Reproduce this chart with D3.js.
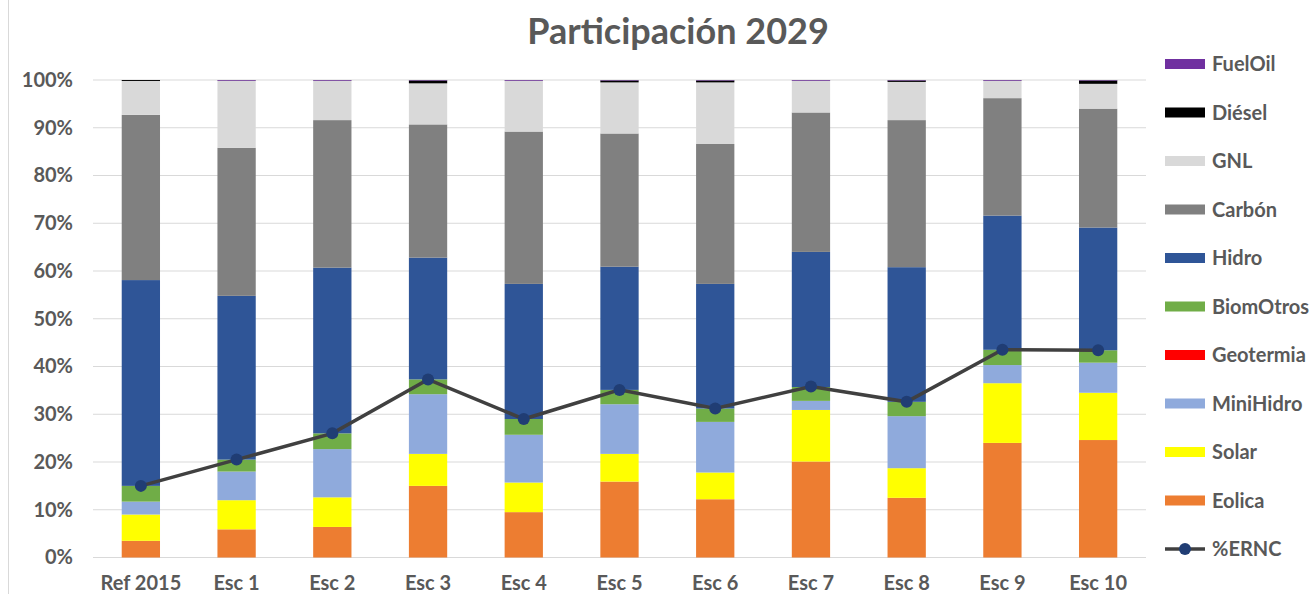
<!DOCTYPE html>
<html><head><meta charset="utf-8">
<script src="https://cdn.jsdelivr.net/npm/d3@7"></script>
<style>
html,body{margin:0;padding:0;background:#fff;}
svg text{font-family:Lato,"Open Sans",sans-serif;font-weight:bold;fill:#595959;}
</style></head>
<body>
<svg id="chart" width="1315" height="594"></svg>
<script>
const categories = ["Ref 2015","Esc 1","Esc 2","Esc 3","Esc 4","Esc 5","Esc 6","Esc 7","Esc 8","Esc 9","Esc 10"];
const eolica    = [3.5, 5.9, 6.4, 15.0, 9.5, 15.9, 12.2, 20.1, 12.5, 24.0, 24.6];
const solar     = [5.5, 6.1, 6.2, 6.7, 6.2, 5.8, 5.6, 10.8, 6.2, 12.5, 9.9];
const miniHidro = [2.7, 6.0, 10.1, 12.5, 10.0, 10.4, 10.6, 1.9, 10.9, 3.8, 6.3];
const geotermia = [0, 0, 0, 0, 0, 0, 0, 0, 0, 0, 0];
const biomOtros = [3.3, 2.5, 3.3, 3.1, 3.3, 3.0, 2.8, 2.9, 3.0, 3.2, 2.6];
const hidro     = [43.1, 34.3, 34.7, 25.5, 28.3, 25.8, 26.1, 28.3, 28.2, 28.1, 25.7];
const carbon    = [34.6, 31.0, 30.9, 27.9, 31.9, 27.9, 29.3, 29.2, 30.8, 24.6, 24.9];
const gnl       = [7.1, 14.0, 8.2, 8.6, 10.6, 10.7, 12.9, 6.6, 8.0, 3.6, 5.2];
const diesel    = [0.2, 0.05, 0.05, 0.6, 0.05, 0.4, 0.4, 0.05, 0.3, 0.05, 0.7];
const fuelOil   = [0.0, 0.15, 0.15, 0.1, 0.15, 0.1, 0.1, 0.15, 0.1, 0.15, 0.1];
const ernc      = [15.0, 20.5, 26.0, 37.3, 29.0, 35.1, 31.2, 35.8, 32.6, 43.5, 43.4];
const yTicks    = [0,10,20,30,40,50,60,70,80,90,100];

const series = [
  {name:"Eolica", values:eolica, color:"#ED7D31"},
  {name:"Solar", values:solar, color:"#FFFF00"},
  {name:"MiniHidro", values:miniHidro, color:"#8FAADC"},
  {name:"Geotermia", values:geotermia, color:"#FF0000"},
  {name:"BiomOtros", values:biomOtros, color:"#70AD47"},
  {name:"Hidro", values:hidro, color:"#2F5597"},
  {name:"Carbón", values:carbon, color:"#808080"},
  {name:"GNL", values:gnl, color:"#D9D9D9"},
  {name:"Diésel", values:diesel, color:"#000000"},
  {name:"FuelOil", values:fuelOil, color:"#7030A0"}
];

const svg = d3.select("#chart");
const W = 1315, H = 594;
const m = {left:93, right:1146, top:80, bottom:557.5};
const FONT = "Lato,'Open Sans',sans-serif";

svg.append("line").attr("x1",8.5).attr("x2",8.5).attr("y1",0).attr("y2",H)
  .attr("stroke","#D9D9D9").attr("stroke-width",1);

const x = d3.scaleBand().domain(categories).range([m.left, m.right]).paddingInner(0.6).paddingOuter(0.3);
const y = d3.scaleLinear().domain([0,100]).range([m.bottom, m.top]);

svg.append("g").selectAll("line").data(yTicks).join("line")
  .attr("x1", m.left).attr("x2", m.right)
  .attr("y1", d=>y(d)).attr("y2", d=>y(d))
  .attr("stroke","#D9D9D9").attr("stroke-width",1);

const yAxis = d3.axisLeft(y).tickValues(yTicks).tickFormat(d=>d+"%").tickSize(0).tickPadding(0);
const gy = svg.append("g").attr("transform",`translate(${m.left-20},0)`).call(yAxis);
gy.select(".domain").remove();
gy.selectAll("text").attr("font-size",20).attr("font-family",FONT).attr("font-weight","bold").attr("fill","#595959");

const xAxis = d3.axisBottom(x).tickSize(0).tickPadding(0);
const gx = svg.append("g").attr("transform",`translate(0,${m.bottom+18})`).call(xAxis);
gx.select(".domain").remove();
gx.selectAll("text").attr("font-size",20).attr("font-family",FONT).attr("font-weight","bold").attr("fill","#595959");

const table = categories.map((c,i)=>{
  const o = {cat:c};
  series.forEach(s=>o[s.name]=s.values[i]);
  return o;
});
const stacked = d3.stack().keys(series.map(s=>s.name))(table);
const gBars = svg.append("g");
stacked.forEach((layer,li)=>{
  gBars.append("g").attr("fill", series[li].color)
    .selectAll("rect").data(layer).join("rect")
    .attr("x", d=>x(d.data.cat))
    .attr("width", x.bandwidth())
    .attr("y", d=>y(d[1]))
    .attr("height", d=>Math.max(0, y(d[0])-y(d[1])));
});

const cx = c => x(c)+x.bandwidth()/2;
const line = d3.line().x((d,i)=>cx(categories[i])).y(d=>y(d));
svg.append("path").datum(ernc).attr("d", line)
  .attr("fill","none").attr("stroke","#404040").attr("stroke-width",3.5);
svg.append("g").selectAll("circle").data(ernc).join("circle")
  .attr("cx",(d,i)=>cx(categories[i])).attr("cy",d=>y(d)).attr("r",6)
  .attr("fill","#203D74");

svg.append("text").attr("x",678).attr("y",44).attr("text-anchor","middle")
  .attr("font-size",36).text("Participación 2029");

const legendItems = series.slice().reverse();
const lg = svg.append("g");
const ly0 = 64, ldy = 48.5;
legendItems.forEach((s,i)=>{
  const yy = ly0 + i*ldy;
  lg.append("rect").attr("x",1165).attr("y",yy-5).attr("width",40).attr("height",10).attr("fill",s.color);
  lg.append("text").attr("x",1212).attr("y",yy).attr("dy","0.35em").attr("font-size",20).text(s.name);
});
const yl = ly0 + legendItems.length*ldy;
lg.append("line").attr("x1",1165).attr("x2",1205).attr("y1",yl).attr("y2",yl).attr("stroke","#404040").attr("stroke-width",3.5);
lg.append("circle").attr("cx",1185).attr("cy",yl).attr("r",6).attr("fill","#203D74");
lg.append("text").attr("x",1212).attr("y",yl).attr("dy","0.35em").attr("font-size",20).text("%ERNC");
</script>
</body></html>
